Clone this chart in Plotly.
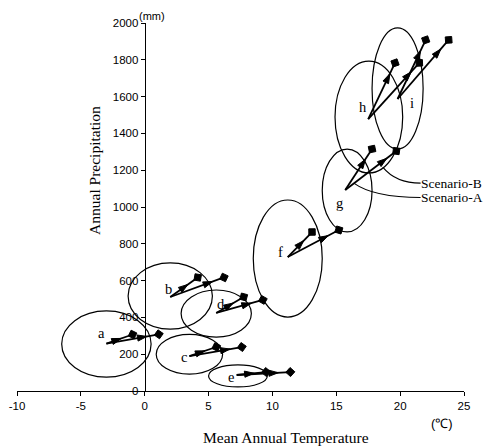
import plotly.graph_objects as go

# ---------------- data ----------------
regions = ['a', 'b', 'c', 'd', 'e', 'f', 'g', 'h', 'i']
base_t = [-3.0, 2.0, 3.5, 5.6, 7.2, 11.2, 15.7, 17.5, 19.8]
base_p = [258, 511, 190, 424, 87, 728, 1092, 1478, 1587]
scenB_t = [-0.95, 4.15, 5.6, 7.75, 9.5, 13.1, 17.8, 19.6, 22.0]
scenB_p = [307, 617, 239, 511, 103, 864, 1315, 1783, 1908]
scenA_t = [1.1, 6.2, 7.6, 9.25, 11.4, 15.2, 19.7, 21.5, 23.8]
scenA_p = [308, 617, 239, 495, 103, 875, 1304, 1783, 1908]

# ellipses (centre, half-width, half-height)
ell_cx = [-3.0, 2.0, 3.5, 5.6, 7.3, 11.2, 15.85, 17.55, 19.8]
ell_cy = [255, 516, 200, 421, 82, 720, 1090, 1489, 1644]
ell_rx = [3.5, 3.3, 2.6, 2.75, 2.3, 2.7, 1.95, 2.65, 2.0]
ell_ry = [180, 180, 108, 128, 60, 318, 225, 304, 329]

# region label positions
lab_t = [-3.37, 1.88, 3.05, 5.95, 6.73, 10.65, 15.27, 17.07, 20.9]
lab_p = [315, 554, 185, 473, 76, 755, 1022, 1543, 1565]

x_ticks = [-10, -5, 0, 5, 10, 15, 20, 25]
y_ticks = [0, 200, 400, 600, 800, 1000, 1200, 1400, 1600, 1800, 2000]

X_RANGE = [-10, 25]
Y_RANGE = [0, 2000]

# ---------------- layout geometry ----------------
# (the page body has an 8px margin, so the figure is sized to fit the window)
W, H = 483, 439
ML, MR, MT, MB = 9, 27, 15, 56
PW, PH = W - ML - MR, H - MT - MB
px_x = PW / (X_RANGE[1] - X_RANGE[0])
px_y = PH / (Y_RANGE[1] - Y_RANGE[0])

SERIF = "Liberation Serif"
SANS = "Liberation Sans"

fig = go.Figure()


def add_arrow(t0, p0, t1, p1, show_base=True):
    dx = (t1 - t0) * px_x
    dy = (p1 - p0) * px_y
    L = (dx ** 2 + dy ** 2) ** 0.5
    f = max(0.5, 1 - 12 / L) if L > 0 else 0.5
    tm = t0 + f * (t1 - t0)
    pm = p0 + f * (p1 - p0)
    fig.add_trace(go.Scatter(
        x=[t0, tm, t1], y=[p0, pm, p1], mode='lines+markers',
        line=dict(color='black', width=1.8),
        opacity=1,
        marker=dict(symbol=['diamond' if show_base else 'circle', 'arrow', 'diamond'],
                    size=[7 if show_base else 1, 10, 7], color='black', opacity=1,
                    line=dict(width=1, color='black'), angleref='previous'),
        showlegend=False, hoverinfo='skip'))


for k in range(len(regions)):
    add_arrow(base_t[k], base_p[k], scenB_t[k], scenB_p[k], show_base=regions[k] != 'f')
    add_arrow(base_t[k], base_p[k], scenA_t[k], scenA_p[k], show_base=regions[k] != 'f')

shapes = []
for k in range(len(regions)):
    shapes.append(dict(type='circle', xref='x', yref='y',
                       x0=ell_cx[k] - ell_rx[k], x1=ell_cx[k] + ell_rx[k],
                       y0=ell_cy[k] - ell_ry[k], y1=ell_cy[k] + ell_ry[k],
                       line=dict(color='black', width=1.2)))

# scenario leader lines (from region g arrows to labels)
scen_names = ['Scenario-B', 'Scenario-A']
scen_lab_t = [21.7, 21.7]
scen_lab_p = [1130, 1052]
lead_start_t = [18.64, 16.37]
lead_start_p = [1217, 1130]
lead_ctrl_t = [19.66, 17.93]
for k in range(2):
    path = (f"M {lead_start_t[k]},{lead_start_p[k]} "
            f"Q {lead_ctrl_t[k]},{scen_lab_p[k]} {scen_lab_t[k] - 0.1},{scen_lab_p[k]}")
    shapes.append(dict(type='path', xref='x', yref='y', path=path,
                       line=dict(color='black', width=1.1)))

annotations = []
for k in range(len(regions)):
    annotations.append(dict(x=lab_t[k], y=lab_p[k], xref='x', yref='y', text=regions[k],
                            showarrow=False, font=dict(family=SERIF, size=14.5, color='black')))
for k in range(2):
    annotations.append(dict(x=scen_lab_t[k], y=scen_lab_p[k], xref='x', yref='y',
                            text=scen_names[k], showarrow=False, xanchor='left',
                            xshift=-2, borderpad=0,
                            font=dict(family=SERIF, size=13.5, color='black')))

annotations += [
    dict(x=0.1745, y=0.598, xref='paper', yref='paper', text='Annual Precipitation',
         textangle=-90, showarrow=False, xanchor='center', yanchor='middle',
         font=dict(family=SERIF, size=15.5, color='black')),
    dict(x=0.602, y=-0.125, xref='paper', yref='paper', text='Mean Annual Temperature',
         showarrow=False, xanchor='center', yanchor='middle',
         font=dict(family=SERIF, size=15.5, color='black')),
    dict(x=0.302, y=(PH + MT - 1) / PH - 0.0, xref='paper', yref='paper', text='(mm)',
         showarrow=False, xanchor='center', yanchor='top', borderpad=0,
         font=dict(family=SANS, size=11, color='black')),
    dict(x=0.951, y=-0.087, xref='paper', yref='paper', text='(℃)',
         showarrow=False, xanchor='center', yanchor='middle',
         font=dict(family=SANS, size=13, color='black')),
]

fig.update_layout(
    width=W, height=H,
    margin=dict(l=ML, r=MR, t=MT, b=MB, autoexpand=False),
    paper_bgcolor='white', plot_bgcolor='white',
    shapes=shapes, annotations=annotations,
    xaxis=dict(range=X_RANGE, tickvals=x_ticks, ticktext=[str(v) for v in x_ticks],
               automargin=False,
               showgrid=False, zeroline=False, showline=True, linecolor='black', linewidth=1,
               ticks='outside', ticklen=4, tickcolor='black',
               tickfont=dict(family=SANS, size=11.5, color='black')),
    yaxis=dict(range=Y_RANGE, tickvals=y_ticks, ticktext=[str(v) for v in y_ticks],
               automargin=False,
               anchor='free', position=(0 - X_RANGE[0]) / (X_RANGE[1] - X_RANGE[0]),
               showgrid=False, zeroline=False, showline=True, linecolor='black', linewidth=1,
               ticks='outside', ticklen=4, tickcolor='black',
               tickfont=dict(family=SANS, size=11.5, color='black')),
)

fig.write_html("out.html")
